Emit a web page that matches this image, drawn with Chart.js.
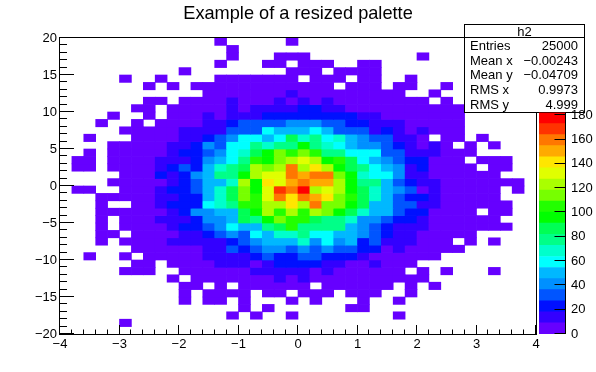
<!DOCTYPE html>
<html>
<head>
<meta charset="utf-8">
<title>Example of a resized palette</title>
<script src="https://cdn.jsdelivr.net/npm/chart.js@4/dist/chart.umd.min.js"></script>
<style>
  html, body { margin: 0; padding: 0; background: #fff; }
  #wrap { position: relative; width: 596px; height: 372px; overflow: hidden; }
  #hist { position: absolute; left: 0; top: 0; }
  #palette { position: absolute; left: 539px; top: 0; }
</style>
</head>
<body>
<div id="wrap">
  <canvas id="hist" width="596" height="372"></canvas>
  <canvas id="palette" width="57" height="372"></canvas>
</div>
<script>
const chartTitle = 'Example of a resized palette';

// bin centres along x, and the lower edge of each y row from top to bottom
const xBinCenters = [
  -3.9, -3.7, -3.5, -3.3, -3.1, -2.9, -2.7, -2.5, -2.3, -2.1,
  -1.9, -1.7, -1.5, -1.3, -1.1, -0.9, -0.7, -0.5, -0.3, -0.1,
  0.1, 0.3, 0.5, 0.7, 0.9, 1.1, 1.3, 1.5, 1.7, 1.9,
  2.1, 2.3, 2.5, 2.7, 2.9, 3.1, 3.3, 3.5, 3.7, 3.9
];
const yRowLow = [
  19, 18, 17, 16, 15, 14, 13, 12, 11, 10,
  9, 8, 7, 6, 5, 4, 3, 2, 1, 0,
  -1, -2, -3, -4, -5, -6, -7, -8, -9, -10,
  -11, -12, -13, -14, -15, -16, -17, -18, -19, -20
];

// counts, one row per y bin
const binCounts = [
  [0,0,0,0,0,0,0,0,0,0, 0,0,0,4,0,0,0,0,0,4, 0,0,0,0,0,0,0,0,0,0, 0,0,0,0,0,0,0,0,0,0],
  [0,0,0,0,0,0,0,0,0,0, 0,0,0,0,4,0,0,0,0,0, 0,0,0,0,0,0,0,0,0,0, 0,0,0,0,0,0,0,0,0,0],
  [0,0,0,0,0,0,0,0,0,0, 0,0,0,0,4,0,0,0,4,4, 4,0,0,0,0,0,0,0,0,0, 4,0,0,0,0,0,0,0,0,0],
  [0,0,0,0,0,0,0,0,0,0, 0,0,0,4,0,0,0,4,4,0, 4,4,4,0,0,4,4,0,0,0, 0,0,0,0,0,0,0,0,0,0],
  [0,0,0,0,0,0,0,0,0,0, 4,0,0,0,0,0,0,0,0,4, 4,4,0,4,4,4,4,0,0,0, 0,0,0,0,0,0,0,0,0,0],
  [0,0,0,0,0,4,0,0,4,0, 0,0,0,4,4,4,4,4,4,4, 0,4,4,4,0,4,4,0,0,4, 0,0,0,0,0,0,0,0,0,0],
  [0,0,0,0,0,0,0,4,0,4, 0,4,4,4,4,4,4,4,4,4, 4,4,4,0,4,4,4,0,4,4, 0,0,4,0,0,0,0,0,0,0],
  [0,0,0,0,0,0,0,0,0,0, 0,0,4,4,4,4,4,4,4,13, 4,4,4,4,4,4,4,4,4,0, 0,4,0,0,0,0,0,0,0,0],
  [0,0,0,0,0,0,0,4,4,0, 4,4,4,4,13,4,4,4,13,4, 13,4,13,4,4,4,4,4,4,4, 4,0,4,0,0,0,0,0,0,0],
  [0,0,0,0,0,0,4,4,0,4, 4,4,4,4,13,4,13,13,13,13, 23,23,13,13,4,4,4,4,4,4, 4,4,4,4,0,0,0,0,0,0],
  [0,0,0,0,4,0,0,4,0,4, 4,4,13,4,13,13,13,23,23,23, 23,23,23,23,23,13,13,4,4,4, 4,4,4,4,0,0,0,0,0,0],
  [0,0,0,4,0,0,4,0,4,4, 4,4,13,13,23,32,32,32,32,41, 41,41,32,32,23,23,13,13,13,4, 4,4,4,4,0,0,0,0,0,0],
  [0,0,0,0,0,4,4,4,4,4, 13,13,13,13,32,32,32,59,50,50, 50,59,50,32,32,32,13,23,13,4, 13,4,4,4,0,0,0,0,0,0],
  [0,0,4,0,0,0,4,4,4,4, 13,13,23,32,41,59,59,50,59,87, 68,77,59,68,50,41,32,32,13,13, 4,0,4,4,0,4,0,0,0,0],
  [0,0,0,0,4,4,4,4,4,13, 13,23,41,32,59,59,77,68,77,77, 96,77,68,59,50,41,41,32,23,13, 4,13,4,0,4,0,4,0,0,0],
  [0,0,4,0,4,4,4,4,4,13, 23,23,32,41,59,68,87,96,114,105, 114,105,77,77,59,59,59,32,32,13, 13,13,4,4,4,0,0,0,0,0],
  [0,4,4,0,4,4,4,4,13,13, 13,23,41,50,59,77,105,96,114,123, 132,123,96,105,87,59,50,41,32,23, 23,4,4,4,0,4,4,4,0,0],
  [0,4,4,0,4,4,4,4,13,23, 32,23,50,68,77,87,123,114,123,160, 123,141,123,96,87,77,59,50,41,13, 23,4,4,4,4,0,4,4,0,0],
  [0,0,0,0,0,4,4,4,23,13, 23,41,50,77,77,96,123,132,132,160, 150,160,160,114,96,68,59,59,41,13, 13,4,4,4,4,4,4,0,0,0],
  [0,0,0,0,4,4,4,4,4,13, 23,32,50,50,68,123,96,141,132,150, 160,150,150,123,96,77,77,50,32,23, 13,13,4,4,4,4,4,4,4,0],
  [0,4,4,0,0,4,4,4,13,23, 23,32,50,68,87,114,96,132,169,160, 178,123,132,123,96,87,68,50,41,32, 4,13,4,4,4,4,4,0,4,0],
  [0,0,0,4,4,4,4,4,13,13, 23,23,50,68,87,114,105,132,160,141, 160,150,141,114,105,87,68,50,32,23, 23,13,4,4,4,4,4,0,0,0],
  [0,0,0,4,0,0,4,4,13,23, 23,23,59,68,77,105,105,123,123,141, 123,160,114,114,96,87,50,50,32,32, 13,13,4,4,4,4,4,4,0,0],
  [0,0,0,4,4,4,4,4,4,13, 23,41,41,50,50,87,96,123,105,123, 105,123,114,96,87,68,50,50,32,23, 23,4,4,4,4,0,4,4,0,0],
  [0,0,0,4,0,4,4,4,13,13, 13,23,41,41,50,87,77,96,114,105, 105,87,77,77,68,41,41,32,23,23, 13,4,4,4,4,4,4,0,0,0],
  [0,0,0,4,0,4,4,4,4,13, 23,23,32,41,59,50,50,77,87,105, 77,77,77,77,50,41,32,23,13,13, 13,4,4,4,4,4,4,4,0,0],
  [0,0,0,4,4,0,4,4,4,4, 13,13,23,32,41,32,59,50,68,68, 77,59,59,50,50,41,32,23,13,13, 4,4,4,4,4,0,0,0,0,0],
  [0,0,0,4,0,4,4,4,4,13, 13,13,13,13,23,32,41,50,50,50, 68,41,59,41,50,23,32,13,13,13, 4,4,4,0,4,0,4,0,0,0],
  [0,0,0,0,0,0,4,4,4,4, 4,4,13,13,32,23,32,41,41,32, 41,32,41,32,32,23,23,4,13,4, 4,4,4,4,0,0,0,0,0,0],
  [0,0,4,0,0,4,0,4,4,4, 4,4,13,13,13,13,23,32,23,23, 32,32,23,23,23,13,4,4,4,4, 4,4,0,0,0,0,0,0,0,0],
  [0,0,0,0,0,0,4,4,0,4, 4,4,4,13,13,13,4,13,23,23, 23,23,13,13,4,4,13,4,4,4, 0,0,0,0,0,0,0,0,0,0],
  [0,0,0,0,0,4,4,4,0,0, 4,4,4,4,4,4,13,13,13,13, 13,4,13,4,4,4,4,4,4,0, 4,0,4,0,0,0,4,0,0,0],
  [0,0,0,0,0,0,0,0,0,4, 0,4,4,4,4,4,4,4,13,4, 13,4,4,4,4,4,4,4,4,4, 4,0,0,0,0,0,0,0,0,0],
  [0,0,0,0,0,0,0,0,0,0, 4,4,0,4,0,4,4,4,4,4, 4,0,4,4,4,4,4,4,0,4, 0,4,0,0,0,0,0,0,0,0],
  [0,0,0,0,0,0,0,0,0,0, 4,0,4,4,4,4,0,4,4,0, 4,4,4,0,4,4,4,0,0,4, 0,0,0,0,0,0,0,0,0,0],
  [0,0,0,0,0,0,0,0,0,0, 4,0,4,4,0,4,0,0,0,4, 0,4,0,0,0,4,0,0,4,0, 0,0,0,0,0,0,0,0,0,0],
  [0,0,0,0,0,0,0,0,0,0, 0,0,0,0,0,4,0,4,0,0, 0,0,0,0,4,4,0,0,0,0, 0,0,0,0,0,0,0,0,0,0],
  [0,0,0,0,0,0,0,0,0,0, 0,0,0,0,4,0,4,0,0,4, 0,0,0,0,0,0,0,0,4,0, 0,0,0,0,0,0,0,0,0,0],
  [0,0,0,0,0,4,0,0,0,0, 0,0,0,0,0,0,0,0,0,0, 0,0,0,0,0,0,0,0,0,0, 0,0,0,0,0,0,0,0,0,0],
  [0,0,0,0,0,0,0,0,0,0, 0,0,0,0,0,0,0,0,0,0, 0,0,0,0,0,0,0,0,0,0, 0,0,0,0,0,0,0,0,0,0]
];

// colour bar: 20 levels
const zLevels = [
  0, 9.1, 18.2, 27.3, 36.5, 45.6, 54.7, 63.8, 72.9, 82, 91.2,
  100.3, 109.4, 118.5, 127.6, 136.7, 145.9, 155, 164.1, 173.2, 182.3
];
const levelColors = [
  '#6600ff', '#3300ff', '#0010ff', '#0055ff', '#0090ff',
  '#00b8ff', '#00ffff', '#00ffcc', '#00ff88', '#00ff55',
  '#00ff00', '#22ff00', '#77ff00', '#aaff00', '#e0ff00',
  '#ffe600', '#ffaa00', '#ff7700', '#ff3300', '#ff0000'
];
const zTicks = [0, 20, 40, 60, 80, 100, 120, 140, 160, 180];

// axis tick positions
const xMajorTicks = [-4, -3, -2, -1, 0, 1, 2, 3, 4];
const xMinorTicks = [
  -3.8, -3.6, -3.4, -3.2, -2.8, -2.6, -2.4, -2.2, -1.8, -1.6, -1.4, -1.2,
  -0.8, -0.6, -0.4, -0.2, 0.2, 0.4, 0.6, 0.8, 1.2, 1.4, 1.6, 1.8,
  2.2, 2.4, 2.6, 2.8, 3.2, 3.4, 3.6, 3.8
];
const yMajorTicks = [-20, -15, -10, -5, 0, 5, 10, 15, 20];
const yMinorTicks = [
  -19, -18, -17, -16, -14, -13, -12, -11, -9, -8, -7, -6, -4, -3, -2, -1,
  1, 2, 3, 4, 6, 7, 8, 9, 11, 12, 13, 14, 16, 17, 18, 19
];

// stats box
const statsName = 'h2';
const statsLabels = ['Entries', 'Mean x', 'Mean y', 'RMS x', 'RMS y'];
const statsValues = ['25000', '\u22120.00243', '\u22120.04709', '0.9973', '4.999'];

Chart.defaults.font.family = '"Liberation Sans", Arial, sans-serif';
Chart.defaults.color = '#000';
Chart.defaults.animation = false;

function levelColor(count) {
  let level = 0;
  while (level < levelColors.length - 1 && count >= zLevels[level + 1]) level++;
  return levelColors[level];
}

function minusLabel(value) {
  return String(value).replace('-', '\u2212');
}

// one floating-bar dataset per y row, empty bins are left out
function buildRowDatasets() {
  return binCounts.map((row, r) => {
    const data = [];
    const colors = [];
    row.forEach((count, c) => {
      if (count > 0) {
        data.push({ x: xBinCenters[c], y: [yRowLow[r], yRowLow[r] + 1] });
        colors.push(levelColor(count));
      }
    });
    return { data, backgroundColor: colors, borderWidth: 0 };
  });
}

// ROOT style frame with inward ticks
const framePlugin = {
  id: 'frame',
  afterDatasetsDraw(chart) {
    const { ctx, chartArea, scales } = chart;
    const { left, right, top, bottom } = chartArea;
    ctx.save();
    ctx.strokeStyle = '#000';
    ctx.lineWidth = 1;
    ctx.strokeRect(Math.round(left) - 0.5, Math.round(top) - 0.5,
      Math.round(right - left) + 1, Math.round(bottom - top) + 1);

    ctx.beginPath();
    const xTick = (v, len) => {
      const px = Math.round(scales.x.getPixelForValue(v)) - 0.5;
      ctx.moveTo(px, bottom);
      ctx.lineTo(px, bottom - len);
    };
    const yTick = (v, len) => {
      const py = Math.round(scales.y.getPixelForValue(v)) - 0.5;
      ctx.moveTo(left, py);
      ctx.lineTo(left + len, py);
    };
    xMajorTicks.forEach(v => xTick(v, 9));
    xMinorTicks.forEach(v => xTick(v, 4.5));
    yMajorTicks.forEach(v => yTick(v, 14));
    yMinorTicks.forEach(v => yTick(v, 7));
    ctx.stroke();
    ctx.restore();
  }
};

const statsPlugin = {
  id: 'statsBox',
  afterDraw(chart) {
    const { ctx } = chart;
    ctx.save();
    ctx.fillStyle = '#fff';
    ctx.strokeStyle = '#000';
    ctx.lineWidth = 1;
    ctx.fillRect(464.5, 24.5, 120, 88);
    ctx.strokeRect(464.5, 24.5, 120, 88);
    ctx.beginPath();
    ctx.moveTo(464.5, 37.5);
    ctx.lineTo(584.5, 37.5);
    ctx.stroke();

    ctx.fillStyle = '#000';
    ctx.font = '13px "Liberation Sans", Arial, sans-serif';
    ctx.textBaseline = 'middle';
    ctx.textAlign = 'center';
    ctx.fillText(statsName, 524.5, 32);
    statsLabels.forEach((label, i) => {
      const y = 46.5 + i * 14.7;
      ctx.textAlign = 'left';
      ctx.fillText(label, 470, y);
      ctx.textAlign = 'right';
      ctx.fillText(statsValues[i], 578, y);
    });
    ctx.restore();
  }
};

const histChart = new Chart(document.getElementById('hist'), {
  type: 'bar',
  data: { datasets: buildRowDatasets() },
  plugins: [framePlugin, statsPlugin],
  options: {
    responsive: false,
    grouped: false,
    barPercentage: 1,
    categoryPercentage: 1,
    plugins: {
      legend: { display: false },
      tooltip: { enabled: false },
      title: {
        display: true,
        text: chartTitle,
        color: '#000',
        font: { size: 18.2, weight: 'normal' },
        padding: { top: 3, bottom: 13.16 }
      }
    },
    scales: {
      x: {
        type: 'linear',
        offset: false,
        min: -4,
        max: 4,
        grid: { display: false, drawTicks: false },
        border: { display: false },
        ticks: {
          stepSize: 1,
          font: { size: 13 },
          padding: 3,
          maxRotation: 0,
          callback: minusLabel
        },
        afterFit(scale) { scale.height = 38; }
      },
      y: {
        type: 'linear',
        min: -20,
        max: 20,
        grid: { display: false, drawTicks: false },
        border: { display: false },
        ticks: {
          stepSize: 5,
          font: { size: 13 },
          padding: 3,
          callback: minusLabel
        },
        afterFit(scale) { scale.width = 60; }
      },
      // empty axis that only reserves the strip for the colour bar
      rightStrip: {
        type: 'linear',
        position: 'right',
        grid: { display: false, drawTicks: false },
        border: { display: false },
        ticks: { display: false },
        afterFit(scale) { scale.width = 60; }
      }
    }
  }
});

// colour bar, right axis with inward ticks
const paletteTicksPlugin = {
  id: 'paletteTicks',
  afterDatasetsDraw(chart) {
    const { ctx, chartArea, scales } = chart;
    const axisX = Math.round(chartArea.right) - 0.5;
    ctx.save();
    ctx.strokeStyle = '#000';
    ctx.lineWidth = 1;
    ctx.beginPath();
    ctx.moveTo(axisX, chartArea.top);
    ctx.lineTo(axisX, chartArea.bottom);
    zTicks.forEach(v => {
      const py = Math.round(scales.y.getPixelForValue(v)) - 0.5;
      ctx.moveTo(axisX, py);
      ctx.lineTo(axisX - 11, py);
    });
    ctx.stroke();
    ctx.restore();
  }
};

const paletteChart = new Chart(document.getElementById('palette'), {
  type: 'bar',
  data: {
    labels: ['z'],
    datasets: levelColors.map((color, i) => ({
      data: [[zLevels[i], zLevels[i + 1]]],
      backgroundColor: color,
      borderWidth: 0
    }))
  },
  plugins: [paletteTicksPlugin],
  options: {
    responsive: false,
    grouped: false,
    barPercentage: 1,
    categoryPercentage: 1,
    layout: { padding: { top: 112.5, bottom: 38 } },
    plugins: {
      legend: { display: false },
      tooltip: { enabled: false }
    },
    scales: {
      x: { display: false },
      y: {
        position: 'right',
        min: 0,
        max: 182.3,
        grid: { display: false, drawTicks: false },
        border: { display: false },
        ticks: {
          stepSize: 20,
          includeBounds: false,
          font: { size: 13 },
          padding: 5
        },
        afterFit(scale) { scale.width = 30; }
      }
    }
  }
});
</script>
</body>
</html>
